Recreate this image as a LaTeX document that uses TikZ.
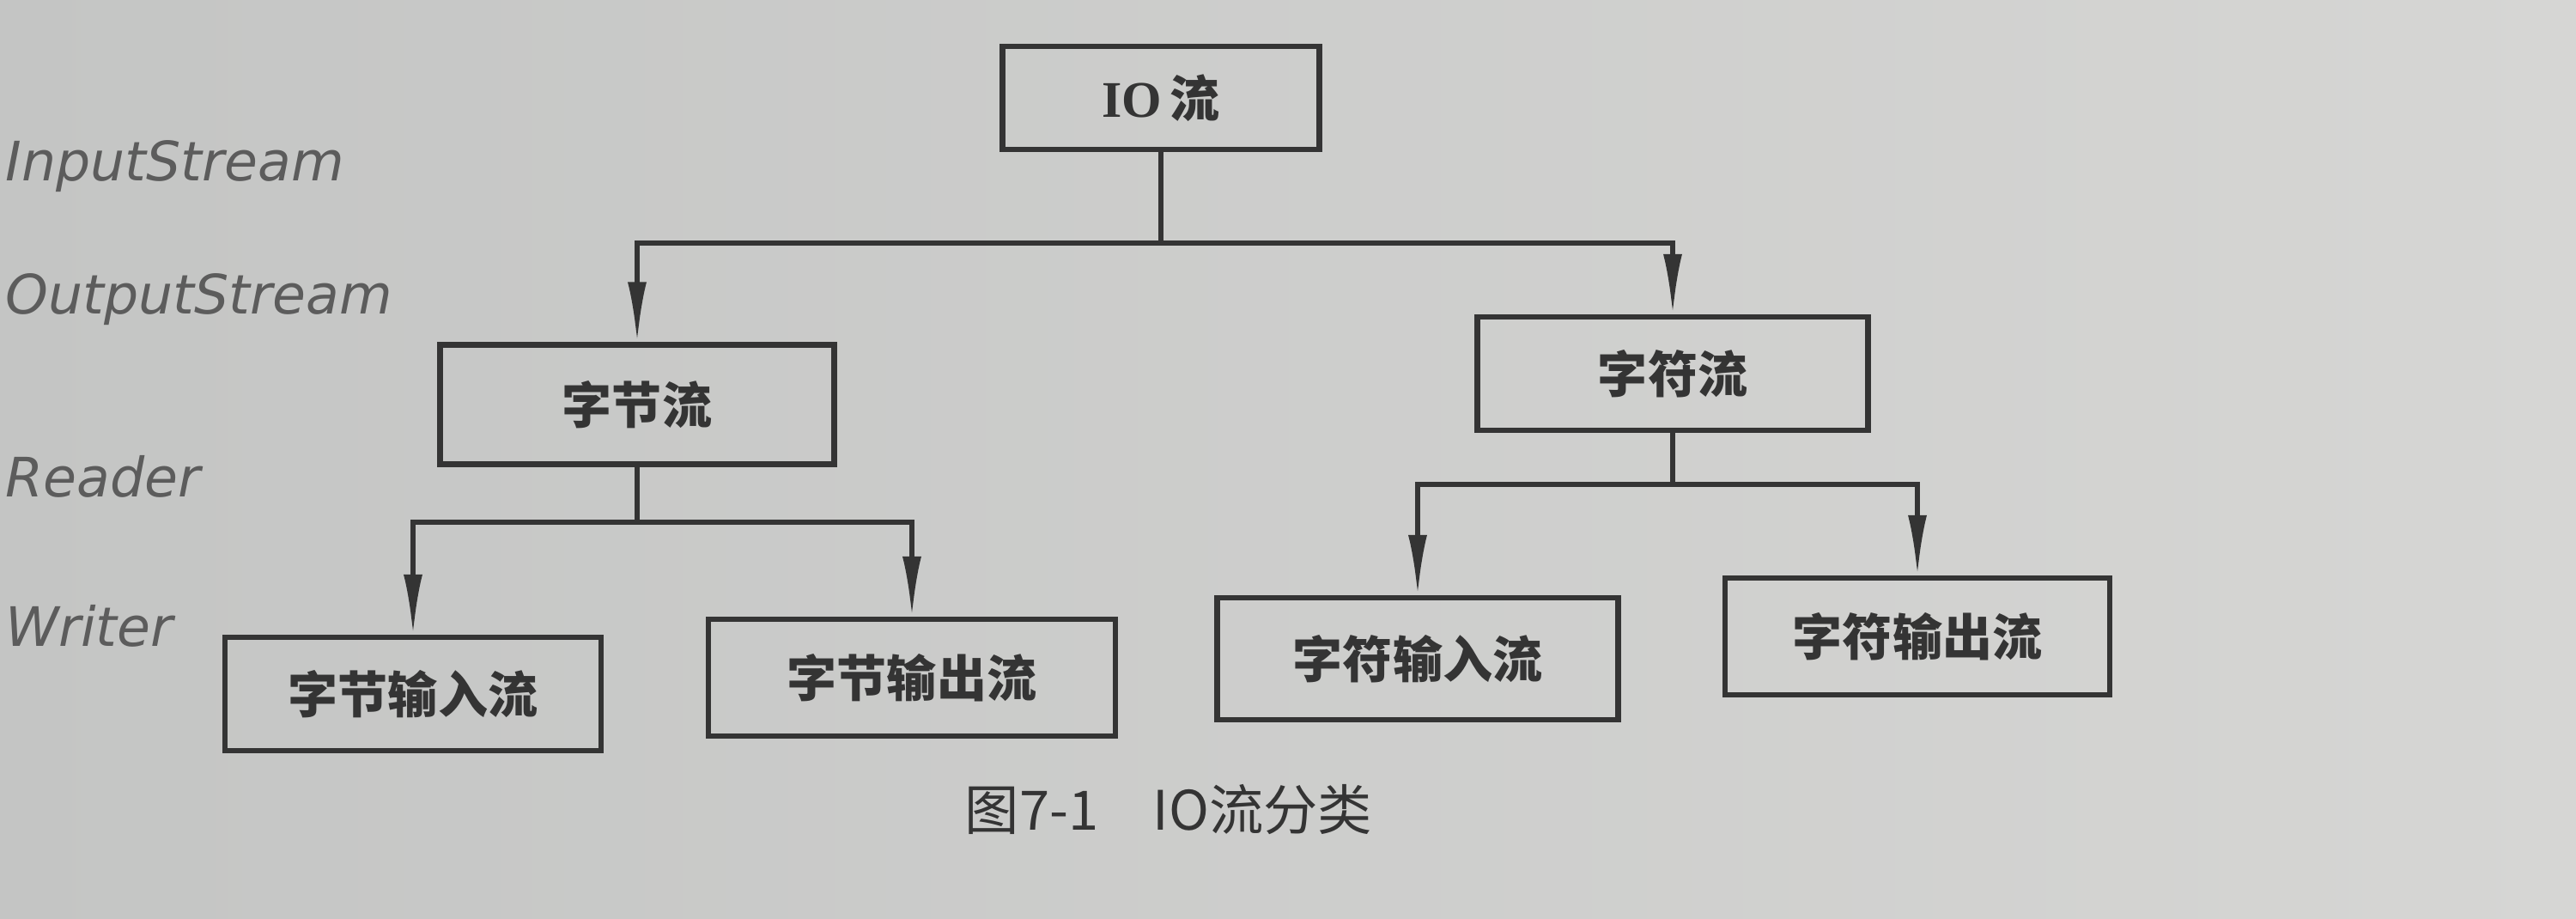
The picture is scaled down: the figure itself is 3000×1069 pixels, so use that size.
\documentclass[tikz,border=0pt]{standalone}
\usepackage{fontspec}
\setmainfont{Liberation Serif}
\newfontfamily\cjk{Noto Sans CJK SC}
\newfontfamily\hand{DejaVu Sans}
\usetikzlibrary{arrows.meta}
\definecolor{paperL}{RGB}{196,197,196}
\definecolor{paperR}{RGB}{214,214,212}
\definecolor{ink}{RGB}{52,52,52}
\definecolor{pencil}{RGB}{92,92,92}
\begin{document}
\begin{tikzpicture}[x=0.01cm,y=-0.01cm,
  box/.style={draw=ink,line width=1.8pt,inner sep=0pt,text=ink,
    font=\cjk\bfseries\fontsize{16.5}{16.5}\selectfont},
  conn/.style={draw=ink,line width=1.5pt,-{Latex[length=7mm,width=2.2mm]}},
  note/.style={anchor=base west,text=pencil,inner sep=0pt,
    font=\hand\itshape\fontsize{18}{18}\selectfont}]
\useasboundingbox (0,0) rectangle (3000,1069);
\shade[left color=paperL,right color=paperR] (0,0) rectangle (3000,1069);

\node[note] (n1) at (6,210) {InputStream};
\node[note] (n2) at (6,365) {OutputStream};
\node[note] (n3) at (6,578) {Reader};
\node[note] (n4) at (6,752) {Writer};

\node[box,minimum width=3.69cm,minimum height=1.2cm] (io) at (1352,114)
  {{\rmfamily\bfseries\fontsize{17}{17}\selectfont IO}\,流};
\node[box,minimum width=4.59cm,minimum height=1.39cm] (zj) at (742,471) {字节流};
\node[box,minimum width=4.55cm,minimum height=1.32cm] (zf) at (1948,435) {字符流};
\node[box,minimum width=4.38cm,minimum height=1.32cm] (zjin) at (481,808) {字节输入流};
\node[box,minimum width=4.74cm,minimum height=1.36cm] (zjout) at (1062,789) {字节输出流};
\node[box,minimum width=4.67cm,minimum height=1.42cm] (zfin) at (1651,767) {字符输入流};
\node[box,minimum width=4.48cm,minimum height=1.36cm] (zfout) at (2233,741) {字符输出流};

\coordinate (b1) at (1352,283);
\coordinate (b2) at (742,608);
\coordinate (b3) at (1948,564);

\draw[conn] (io.south) -- (b1) -| (zj.north);
\draw[conn] (b1) -| (zf.north);
\draw[conn] (zj.south) -- (b2) -| (zjin.north);
\draw[conn] (b2) -| (zjout.north);
\draw[conn] (zf.south) -- (b3) -| (zfin.north);
\draw[conn] (b3) -| (zfout.north);

\node[text=ink,font=\cjk\fontsize{18}{18}\selectfont] (cap) at (1361,943)
  {图7-1\hspace{1em}IO流分类};
\end{tikzpicture}
\end{document}
